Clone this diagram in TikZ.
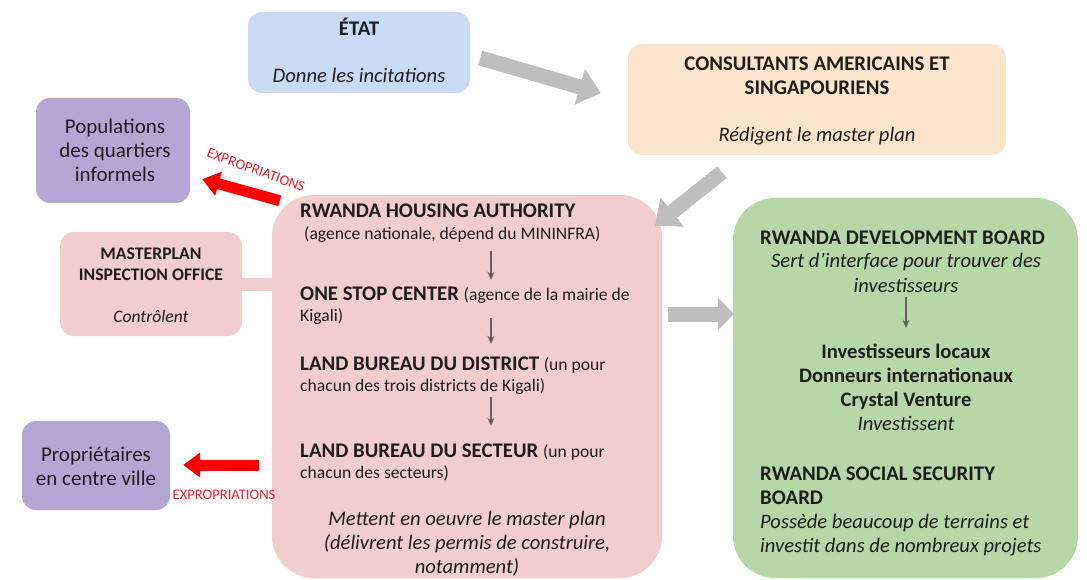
\documentclass[tikz,border=0pt]{standalone}
\usepackage{fontspec}
\setmainfont{Carlito}
\usetikzlibrary{arrows.meta,calc}
\definecolor{cblue}{RGB}{201,218,246}
\definecolor{cpeach}{RGB}{251,228,204}
\definecolor{cpurple}{RGB}{180,167,214}
\definecolor{cpink}{RGB}{242,205,205}
\definecolor{cgreen}{RGB}{183,215,168}
\definecolor{cgrayarr}{RGB}{190,190,190}
\definecolor{cdark}{RGB}{30,30,30}
\definecolor{csmall}{RGB}{95,95,95}
\definecolor{clabred}{RGB}{232,30,40}
\begin{document}
\begin{tikzpicture}[x=1pt,y=-1pt,
  box/.style={rounded corners=14pt, inner sep=0pt, draw=none},
  bigbox/.style={rounded corners=42pt, inner sep=0pt, draw=none},
  txt/.style={inner sep=0pt, text=cdark, anchor=base},
  txtl/.style={inner sep=0pt, text=cdark, anchor=base west},
  hb/.style={font=\bfseries\fontsize{20.8}{24}\selectfont},
  hbs/.style={font=\bfseries\fontsize{17.7}{20}\selectfont},
  rg/.style={font=\fontsize{21}{24}\selectfont},
  sm/.style={font=\fontsize{17.6}{20}\selectfont},
  it/.style={font=\itshape\fontsize{20.6}{24}\selectfont},
  grayarr/.style={draw=cgrayarr, line width=15pt, -{Triangle[width=36pt,length=22pt]}},
  redarr/.style={draw=red, line width=11pt, -{Triangle[width=24pt,length=17pt]}},
  smallarr/.style={draw=csmall, line width=1.2pt, -{Stealth[width=7pt,length=8pt]}},
  exlab/.style={inner sep=0pt, text=clabred, font=\fontsize{14.6}{16}\selectfont}]
\useasboundingbox (0,0) rectangle (1087,580);
\fill[white] (0,0) rectangle (1087,580);

% boxes
\node[box, fill=cblue, minimum width=222pt, minimum height=81pt] (etat) at (359,52.5) {};
\node[box, fill=cpeach, minimum width=378pt, minimum height=111pt] (cons) at (817,99.5) {};
\node[box, fill=cpurple, minimum width=154pt, minimum height=105pt] (pop) at (113,150.5) {};
\node[box, fill=cpink, minimum width=182pt, minimum height=104pt] (mip) at (151,284) {};
\node[box, fill=cpurple, minimum width=148pt, minimum height=89pt] (prop) at (96,465.5) {};
\node[bigbox, fill=cpink, minimum width=390pt, minimum height=383pt] (rha) at (467,386.5) {};
\node[bigbox, fill=cgreen, minimum width=345pt, minimum height=380pt] (rdb) at (905.5,388) {};

% bar between masterplan office and RHA
\draw[cpink, line width=13pt] (mip.east) -- (mip.east -| rha.west);

% ETAT
\node[txt, hb] (etat1) at (359,36) {ÉTAT};
\node[txt, it] (etat2) at (359,83) {Donne les incitations};
% Consultants
\node[txt, hb] (cons1) at (817,71) {CONSULTANTS AMERICAINS ET};
\node[txt, hb] (cons2) at (817,95) {SINGAPOURIENS};
\node[txt, it] (cons3) at (817,142) {Rédigent le master plan};
% Populations
\node[txt, rg] (pop1) at (115,134) {Populations};
\node[txt, rg] (pop2) at (115,158) {des quartiers};
\node[txt, rg] (pop3) at (115,182) {informels};
% Masterplan
\node[txt, hbs] (mip1) at (151,259) {MASTERPLAN};
\node[txt, hbs] (mip2) at (151,280) {INSPECTION OFFICE};
\node[txt, font=\itshape\fontsize{17.6}{20}\selectfont] (mip3) at (151,322) {Contrôlent};
% Proprietaires
\node[txt, rg] (prop1) at (96,461) {Propriétaires};
\node[txt, rg] (prop2) at (96,485) {en centre ville};

% RHA text
\node[txtl, hb] (r1) at (300,218) {RWANDA HOUSING AUTHORITY};
\node[txtl, sm] (r2) at (304,240) {(agence nationale, dépend du MININFRA)};
\node[txtl] (r3) at (300,300) {\bfseries\fontsize{20.8}{24}\selectfont ONE STOP CENTER \fontsize{17.6}{20}\mdseries\selectfont(agence de la mairie de};
\node[txtl, sm] (r4) at (300,321) {Kigali)};
\node[txtl] (r5) at (300,370) {\bfseries\fontsize{20.8}{24}\selectfont LAND BUREAU DU DISTRICT \fontsize{17.6}{20}\mdseries\selectfont(un pour};
\node[txtl, sm] (r6) at (300,391) {chacun des trois districts de Kigali)};
\node[txtl] (r7) at (300,457) {\bfseries\fontsize{20.8}{24}\selectfont LAND BUREAU DU SECTEUR \fontsize{17.6}{20}\mdseries\selectfont(un pour};
\node[txtl, sm] (r8) at (300,478) {chacun des secteurs)};
\node[txt, it] (r9) at (467,525) {Mettent en oeuvre le master plan};
\node[txt, it] (r10) at (467,549) {(délivrent les permis de construire,};
\node[txt, it] (r11) at (467,573) {notamment)};

% RDB text
\node[txtl, hb] (g1) at (760,244) {RWANDA DEVELOPMENT BOARD};
\node[txt, it] (g2) at (906,268) {Sert d’interface pour trouver des};
\node[txt, it] (g3) at (906,292) {investisseurs};
\node[txt, font=\bfseries\fontsize{20.6}{24}\selectfont] (g4) at (906,358) {Investisseurs locaux};
\node[txt, font=\bfseries\fontsize{20.6}{24}\selectfont] (g5) at (906,382) {Donneurs internationaux};
\node[txt, font=\bfseries\fontsize{20.6}{24}\selectfont] (g6) at (906,406) {Crystal Venture};
\node[txt, it] (g7) at (906,430) {Investissent};
\node[txtl, hb] (g8) at (760,480) {RWANDA SOCIAL SECURITY};
\node[txtl, hb] (g9) at (760,504) {BOARD};
\node[txtl, it] (g10) at (760,528) {Possède beaucoup de terrains et};
\node[txtl, it] (g11) at (760,552) {investit dans de nombreux projets};

% small arrows
\draw[smallarr] ($(rha.north)+(24,56)$) -- ($(rha.north)+(24,85)$);
\draw[smallarr] ($(rha.north)+(24,123)$) -- ($(rha.north)+(24,149)$);
\draw[smallarr] ($(rha.north)+(24,202)$) -- ($(rha.north)+(24,231)$);
\draw[smallarr] ($(rdb.north)+(0.5,99)$) -- ($(rdb.north)+(0.5,130)$);

% gray arrows
\draw[grayarr] ($(etat.east)+(10,5.5)$) -- ($(cons.west)+(-27,-6.5)$);
\draw[grayarr] ($(cons.south)+(-95,17)$) -- ($(rha.north)+(188,31)$);
\draw[grayarr, -{Triangle[width=32pt,length=16pt]}] ($(rha.east)+(6,-72.5)$) -- ($(rdb.west)+(1,-74)$);

% red arrows
\draw[redarr] ($(rha.north west)+(8,6)$) -- ($(pop.south east)+(12,-24)$);
\draw[redarr] ($(rha.west)+(-13,78.5)$) -- ($(prop.east)+(13,-0.5)$);
\node[exlab, rotate=-20] (ex1) at (256,170) {EXPROPRIATIONS};
\node[exlab] (ex2) at (224,495) {EXPROPRIATIONS};
\end{tikzpicture}
\end{document}
